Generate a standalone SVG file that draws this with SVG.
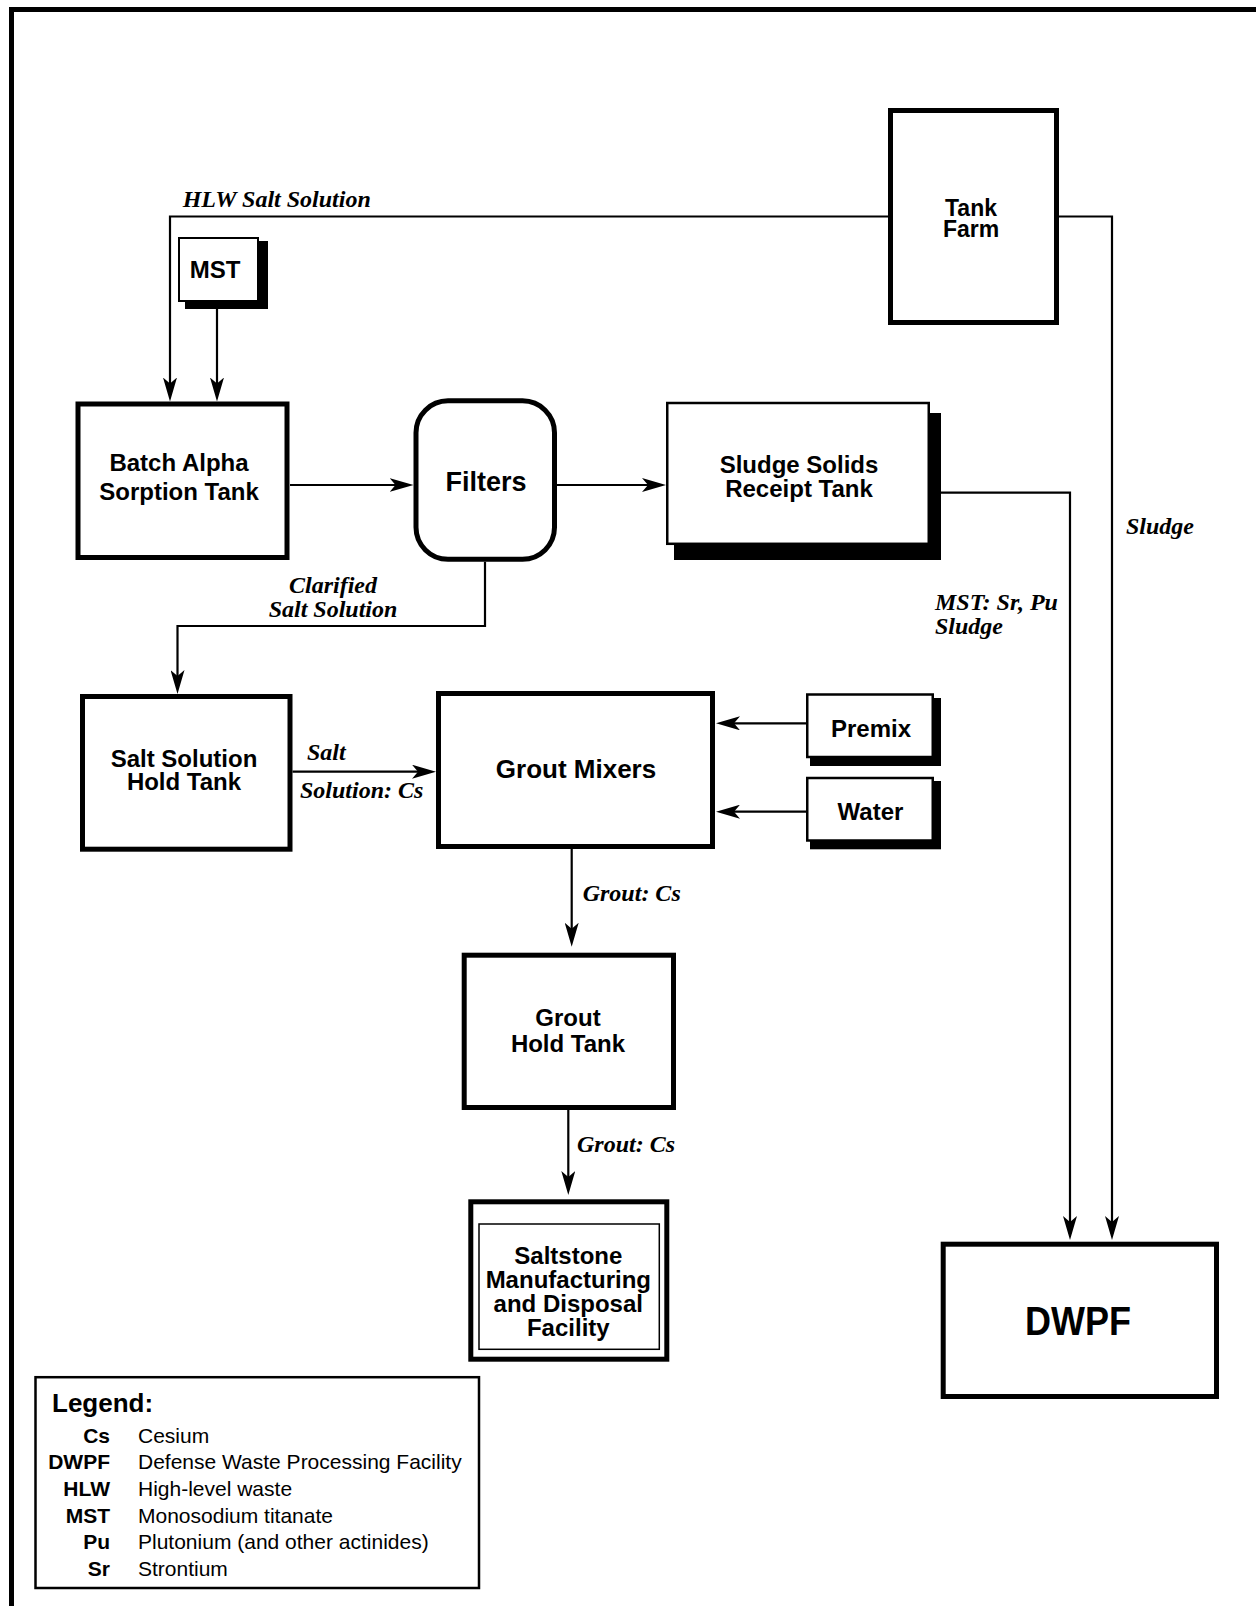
<svg xmlns="http://www.w3.org/2000/svg" width="1256" height="1606" viewBox="0 0 1256 1606">
<style>
.n{font-family:"Liberation Sans",Arial,sans-serif;font-weight:bold;font-size:24px;text-anchor:middle;fill:#000}
.lb{font-family:"Liberation Serif","Times New Roman",serif;font-weight:bold;font-style:italic;font-size:24px;fill:#000}
.thick{fill:#fff;stroke:#000;stroke-width:5}
.thin{fill:#fff;stroke:#000;stroke-width:2.5}
.sh{fill:#000}
.c{fill:none;stroke:#000;stroke-width:2.2}
.la{font-family:"Liberation Sans",Arial,sans-serif;font-weight:bold;font-size:21px;text-anchor:end}
.ld{font-family:"Liberation Sans",Arial,sans-serif;font-size:21px}
</style>
<defs>
<marker id="ah" markerUnits="userSpaceOnUse" viewBox="0 0 24 14" refX="14" refY="7" markerWidth="24" markerHeight="14" orient="auto">
<path d="M24,7 L0,0 L6,7 L0,14 Z" fill="#000"/>
</marker>
</defs>
<rect width="1256" height="1606" fill="#fff"/>
<path d="M11.5,1606 V9.5 H1256" fill="none" stroke="#000" stroke-width="5"/>

<g id="connectors">
<path class="c" d="M888,216.5 H170 V391.5" marker-end="url(#ah)"/>
<path class="c" d="M217,302 V391.5" marker-end="url(#ah)"/>
<path class="c" d="M290,485 H403.5" marker-end="url(#ah)"/>
<path class="c" d="M557,485 H656" marker-end="url(#ah)"/>
<path class="c" d="M930,492.7 H1070 V1230" marker-end="url(#ah)"/>
<path class="c" d="M1059,216.5 H1112 V1230" marker-end="url(#ah)"/>
<path class="c" d="M485,561.7 V626 H177.5 V684" marker-end="url(#ah)"/>
<path class="c" d="M292.5,771.7 H426" marker-end="url(#ah)"/>
<path class="c" d="M806,723.3 H726" marker-end="url(#ah)"/>
<path class="c" d="M806,811.7 H726" marker-end="url(#ah)"/>
<path class="c" d="M571.7,849 V936.7" marker-end="url(#ah)"/>
<path class="c" d="M568.3,1110 V1185" marker-end="url(#ah)"/>
<text class="lb" x="182.7" y="206.7">HLW Salt Solution</text>
<text class="lb" x="333" y="593.3" text-anchor="middle">Clarified</text>
<text class="lb" x="333" y="617.3" text-anchor="middle">Salt Solution</text>
<text class="lb" x="935" y="610">MST: Sr, Pu</text>
<text class="lb" x="935" y="634">Sludge</text>
<text class="lb" x="1126" y="534">Sludge</text>
<text class="lb" x="307" y="760">Salt</text>
<text class="lb" x="300" y="798.3">Solution: Cs</text>
<text class="lb" x="582.7" y="900.7">Grout: Cs</text>
<text class="lb" x="577" y="1151.7">Grout: Cs</text>
</g>

<g id="tank-farm">
<rect class="thick" x="890.5" y="110.5" width="166" height="212"/>
<text class="n" x="971" y="216" style="font-size:23px">Tank</text>
<text class="n" x="971" y="236.7" style="font-size:23px">Farm</text>
</g>

<g id="mst">
<rect class="sh" x="185" y="241" width="83" height="68"/>
<rect class="thin" x="179" y="238" width="79" height="63" style="stroke-width:2"/>
<text class="n" x="215" y="278">MST</text>
</g>

<g id="batch-alpha">
<rect class="thick" x="78" y="404" width="209" height="153.5"/>
<text class="n" x="179" y="470.7">Batch Alpha</text>
<text class="n" x="179" y="500">Sorption Tank</text>
</g>

<g id="filters">
<rect class="thick" x="416" y="400.8" width="138.5" height="158.5" rx="32" ry="32"/>
<text class="n" x="486" y="491" style="font-size:27px">Filters</text>
</g>

<g id="sludge-solids">
<rect class="sh" x="674" y="413" width="267" height="147"/>
<rect class="thin" x="667.25" y="403" width="261.5" height="140.8"/>
<text class="n" x="799" y="472.7">Sludge Solids</text>
<text class="n" x="799" y="496.7">Receipt Tank</text>
</g>

<g id="salt-hold">
<rect class="thick" x="82.5" y="696.5" width="207.5" height="152.7"/>
<text class="n" x="184" y="766.7">Salt Solution</text>
<text class="n" x="184" y="790">Hold Tank</text>
</g>

<g id="grout-mixers">
<rect class="thick" x="438.5" y="693.5" width="274" height="153"/>
<text class="n" x="576" y="778.3" style="font-size:26px">Grout Mixers</text>
</g>

<g id="premix">
<rect class="sh" x="810" y="698" width="131" height="68"/>
<rect class="thin" x="807.25" y="694.5" width="125.5" height="62.5"/>
<text class="n" x="871" y="737.3">Premix</text>
</g>

<g id="water">
<rect class="sh" x="810" y="781" width="131" height="68.3"/>
<rect class="thin" x="807.25" y="778" width="125.5" height="62.5"/>
<text class="n" x="870.5" y="820">Water</text>
</g>

<g id="grout-hold">
<rect class="thick" x="464.2" y="955.2" width="209.3" height="152.3"/>
<text class="n" x="568" y="1026">Grout</text>
<text class="n" x="568" y="1051.7">Hold Tank</text>
</g>

<g id="saltstone">
<rect class="thick" x="470.8" y="1201.8" width="196" height="157.4"/>
<rect fill="none" stroke="#000" stroke-width="1.5" x="479" y="1224" width="180.3" height="125.3"/>
<text class="n" x="568.3" y="1264.3">Saltstone</text>
<text class="n" x="568.3" y="1288.3">Manufacturing</text>
<text class="n" x="568.3" y="1312.3">and Disposal</text>
<text class="n" x="568.3" y="1336.3">Facility</text>
</g>

<g id="dwpf">
<rect class="thick" x="943.2" y="1244.2" width="273.3" height="152.3"/>
<text class="n" x="1078" y="1335" style="font-size:41px" textLength="106" lengthAdjust="spacingAndGlyphs">DWPF</text>
</g>

<g id="legend">
<rect fill="#fff" stroke="#000" stroke-width="2.5" x="35.5" y="1377.2" width="443.5" height="210.8"/>
<text x="52" y="1412" style="font-family:'Liberation Sans',Arial,sans-serif;font-weight:bold;font-size:26px">Legend:</text>
<text class="la" x="110" y="1442.7">Cs</text><text class="ld" x="138" y="1442.7">Cesium</text>
<text class="la" x="110" y="1469.3">DWPF</text><text class="ld" x="138" y="1469.3">Defense Waste Processing Facility</text>
<text class="la" x="110" y="1495.9">HLW</text><text class="ld" x="138" y="1495.9">High-level waste</text>
<text class="la" x="110" y="1522.5">MST</text><text class="ld" x="138" y="1522.5">Monosodium titanate</text>
<text class="la" x="110" y="1549.1">Pu</text><text class="ld" x="138" y="1549.1">Plutonium (and other actinides)</text>
<text class="la" x="110" y="1575.7">Sr</text><text class="ld" x="138" y="1575.7">Strontium</text>
</g>
</svg>
